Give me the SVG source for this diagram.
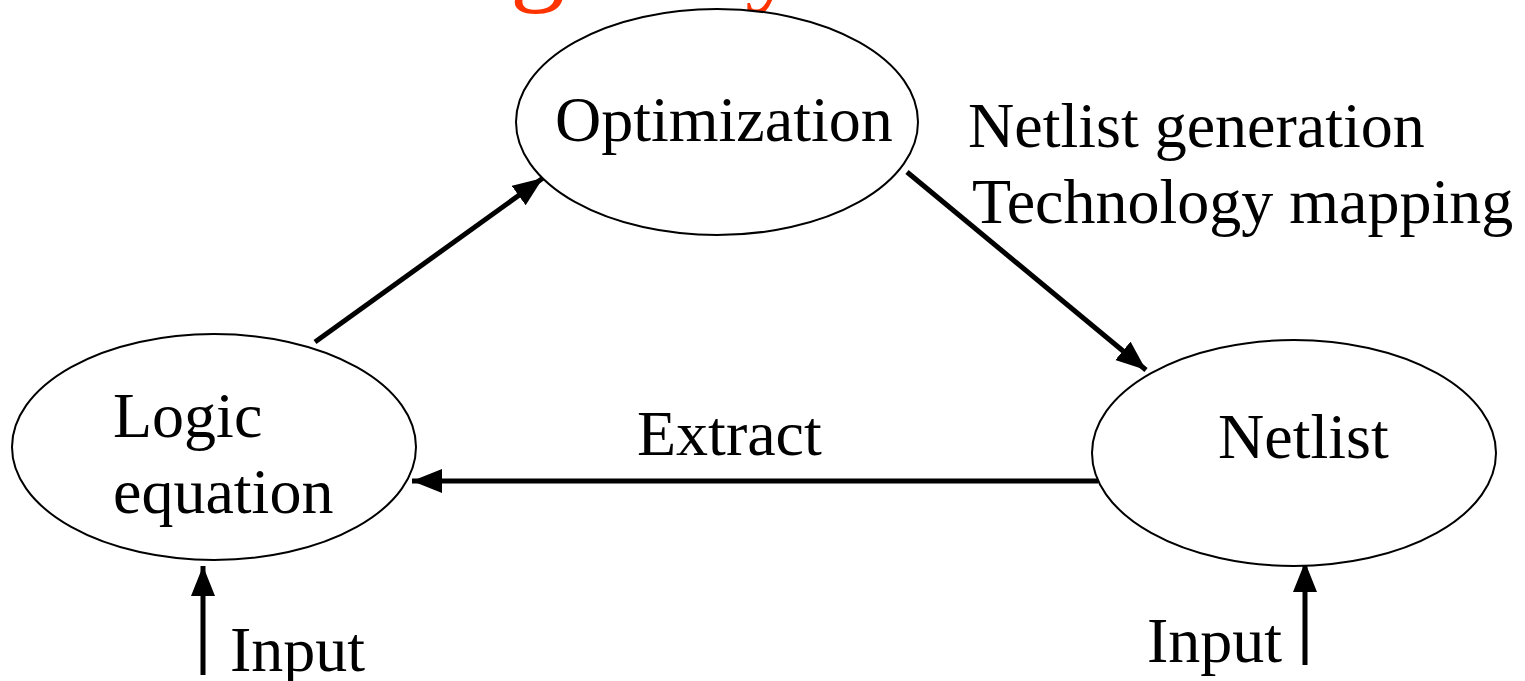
<svg xmlns="http://www.w3.org/2000/svg" width="1525" height="681" viewBox="0 0 1525 681">
<style>
.node{fill:#fff;stroke:#000;stroke-width:2}
.t{font-family:"Liberation Serif","Times New Roman",serif;font-size:64px;fill:#000}
.title{font-family:"Liberation Serif","Times New Roman",serif;font-size:110px;fill:#FF3300}
.c{stroke:#000;stroke-width:5;fill:none;marker-end:url(#ah)}
</style>
<defs>
<marker id="ah" markerUnits="userSpaceOnUse" markerWidth="34" markerHeight="28" refX="30" refY="12" orient="auto">
<path d="M0,0 L30,12 L0,24 Z" fill="#000"/>
</marker>
</defs>
<rect width="1525" height="681" fill="#fff"/>
<g id="title-fragment">
<text class="title" x="510" y="-9">g</text>
<text class="title" x="745" y="-8">y</text>
</g>
<g id="connectors">
<line class="c" x1="315" y1="342" x2="543" y2="178"/>
<line class="c" x1="907" y1="172" x2="1146" y2="370"/>
<line class="c" x1="1098" y1="481" x2="412" y2="481"/>
<line class="c" x1="203" y1="675" x2="203" y2="566"/>
<line class="c" x1="1305" y1="665" x2="1305" y2="562"/>
</g>
<g id="optimization">
<ellipse class="node" cx="717" cy="122" rx="201" ry="113"/>
<text class="t" x="555" y="141">Optimization</text>
</g>
<g id="logic">
<ellipse class="node" cx="214" cy="447" rx="202" ry="113"/>
<text class="t" x="113" y="437">Logic</text>
<text class="t" x="113" y="513">equation</text>
</g>
<g id="netlist">
<ellipse class="node" cx="1294" cy="453" rx="202" ry="113"/>
<text class="t" x="1218" y="458">Netlist</text>
</g>
<g id="labels">
<text class="t" x="968" y="147">Netlist generation</text>
<text class="t" x="972" y="223">Technology mapping</text>
<text class="t" x="637" y="455">Extract</text>
<text class="t" x="230" y="671">Input</text>
<text class="t" x="1147" y="662">Input</text>
</g>
</svg>
